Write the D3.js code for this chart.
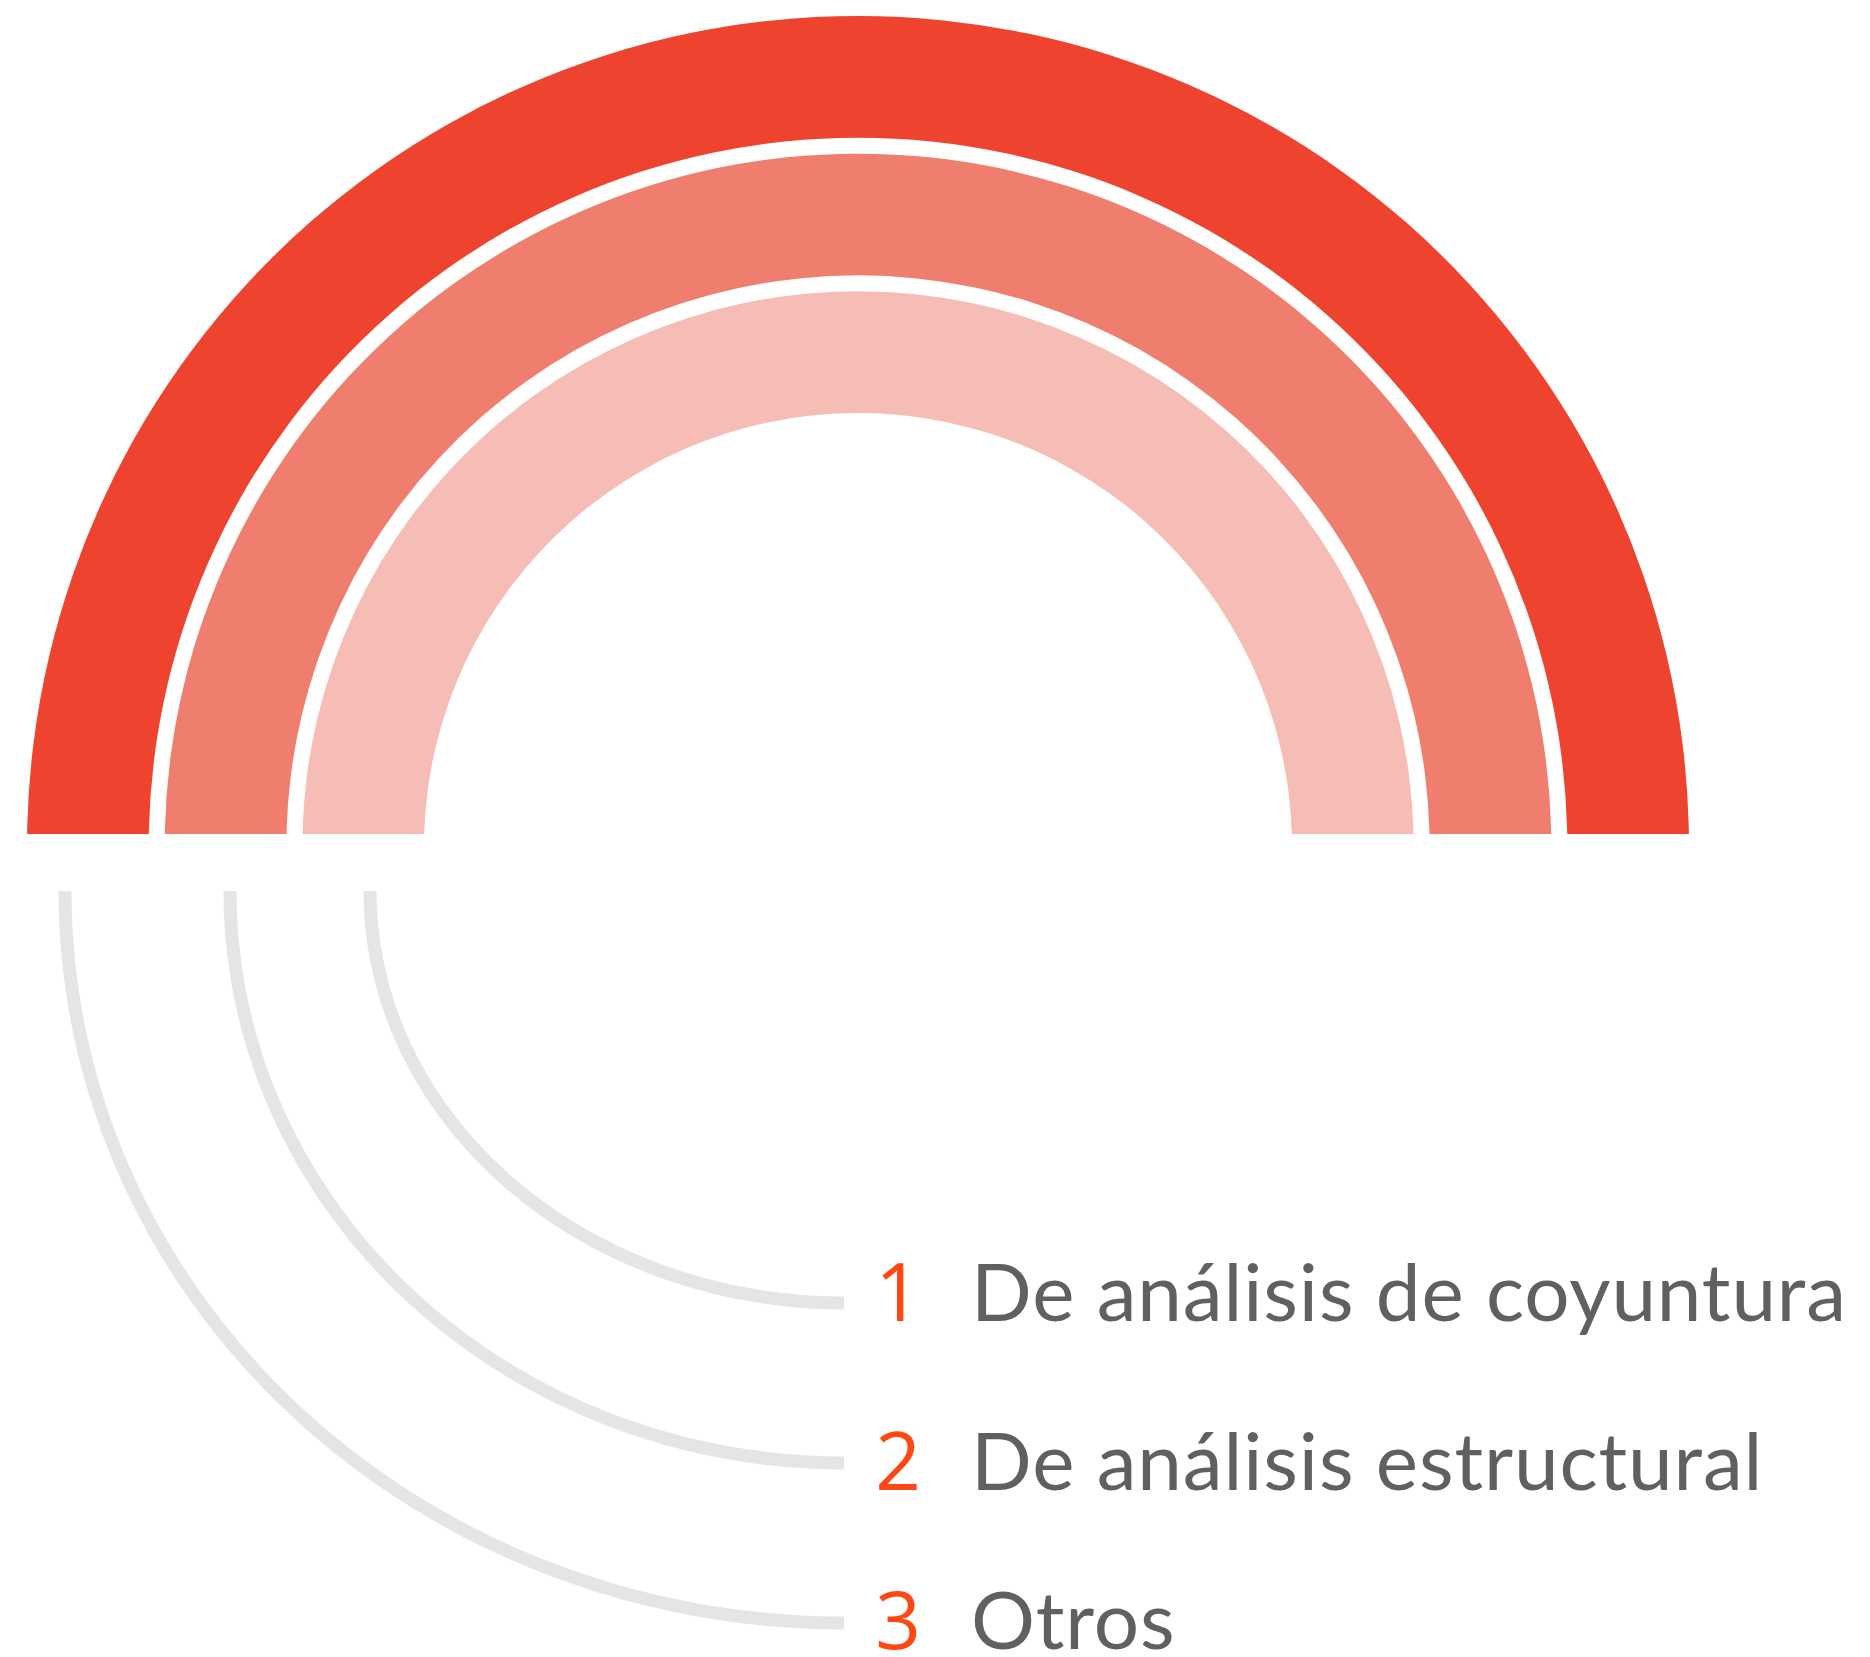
<!DOCTYPE html>
<html>
<head>
<meta charset="utf-8">
<script src="https://cdn.jsdelivr.net/npm/d3@7"></script>
<style>
  body { margin: 0; background: #fff; }
  text { font-family: Lato, "Noto Sans", sans-serif; }
  .rank { font-family: "Open Sans", "Noto Sans", sans-serif; }
</style>
</head>
<body>
<div id="chart"></div>
<script>
// Categories and their share of the half ring (each arc fills the whole half)
const categories = ["De análisis de coyuntura", "De análisis estructural", "Otros"];
const ranks = ["1", "2", "3"];
const shares = [1, 1, 1];

const colors = ["#EE442F", "#F07E6E", "#F6BCB6"];

const width = 1870;
const height = 1657;

const cx = 858;
const cy = 847;
const baseY = 834;

const svg = d3.select("#chart")
    .append("svg")
    .attr("width", width)
    .attr("height", height);

// radius bands, outermost first
const rScale = d3.scaleBand()
    .domain(categories)
    .range([831, 434])
    .paddingInner(0.116);

const angle = d3.scaleLinear()
    .domain([0, 1])
    .range([-Math.PI / 2, Math.PI / 2]);

const color = d3.scaleOrdinal()
    .domain(categories)
    .range(colors);

svg.append("clipPath")
    .attr("id", "top-half")
    .append("rect")
    .attr("x", 0)
    .attr("y", 0)
    .attr("width", width)
    .attr("height", baseY);

const arc = d3.arc()
    .innerRadius(d => rScale(d.cat))
    .outerRadius(d => rScale(d.cat) + rScale.bandwidth())
    .startAngle(d => angle(0) - (Math.PI / 2) * 0.05)
    .endAngle(d => angle(d.share) + (Math.PI / 2) * 0.05);

const arcData = categories.map((c, i) => ({ cat: c, share: shares[i] }));

svg.append("g")
    .attr("clip-path", "url(#top-half)")
    .append("g")
    .attr("transform", `translate(${cx},${cy})`)
    .selectAll("path")
    .data(arcData)
    .join("path")
    .attr("d", arc)
    .attr("fill", d => color(d.cat));

// grey guide curves from the arcs down to the legend
const guideX = 844;
const guideTop = 891;
const guideRx = d3.scaleOrdinal().domain(categories).range([474, 614, 779]);
const guideRy = d3.scaleOrdinal().domain(categories).range([412, 572, 732]);

const guideLine = d3.line()
    .x(p => p[0])
    .y(p => p[1]);

svg.append("g")
    .selectAll("path")
    .data(categories)
    .join("path")
    .attr("d", c => guideLine(d3.range(0, 1.0001, 0.01).map(t => {
        const a = t * Math.PI / 2;
        return [guideX - guideRx(c) * Math.cos(a), guideTop + guideRy(c) * Math.sin(a)];
    })))
    .attr("fill", "none")
    .attr("stroke", "#E5E5E5")
    .attr("stroke-width", 13)
    .attr("stroke-linecap", "butt");

// legend
const legendY = d3.scaleOrdinal().domain(categories).range([1321, 1490, 1649]);

const legend = svg.append("g")
    .selectAll("g")
    .data(categories)
    .join("g")
    .attr("transform", c => `translate(0,${legendY(c)})`);

legend.append("text")
    .attr("class", "rank")
    .attr("x", 898)
    .attr("text-anchor", "middle")
    .attr("font-size", 80)
    .attr("fill", "#FF4714")
    .text((c, i) => ranks[i]);

const labels = legend.append("text")
    .attr("x", 971)
    .attr("font-size", 80)
    .attr("fill", "#606060")
    .text(c => c);

// fit the spacing of the first label to the reference width
const first = labels.node();
const w0 = first.getComputedTextLength();
const n0 = categories[0].length;
const ls = (875 - w0) / (n0 - 1);
labels.attr("letter-spacing", ls);
</script>
</body>
</html>
